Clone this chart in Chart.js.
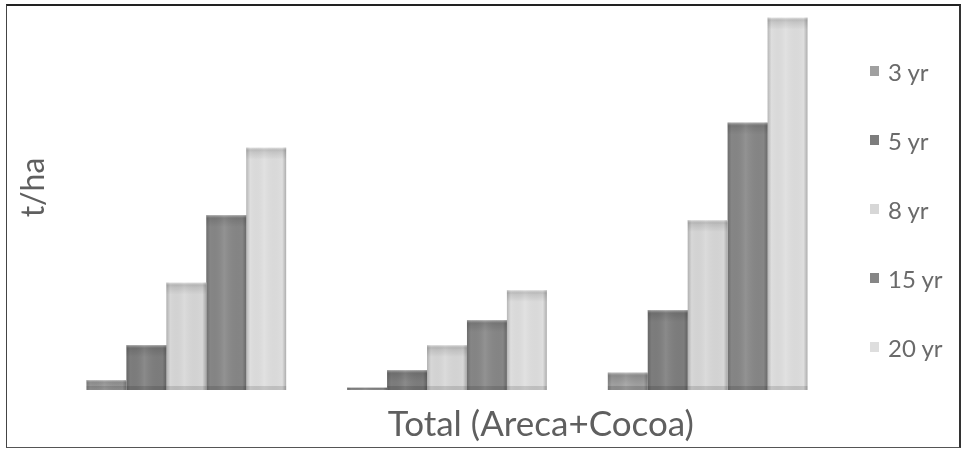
<!DOCTYPE html>
<html>
<head>
<meta charset="utf-8">
<script src="https://cdn.jsdelivr.net/npm/chart.js@4.4.1/dist/chart.umd.min.js"></script>
<style>
  html, body { margin: 0; padding: 0; background: #fff; }
  #wrap { position: relative; width: 963px; height: 449px; overflow: hidden; background: #fff; }
  #c { position: absolute; left: 0; top: 0; }
  #frame {
    position: absolute; left: 6px; top: 4px; width: 952px; height: 441px;
    border-left: 1px solid #444; border-bottom: 1px solid #555;
    border-top: 2px solid #222; border-right: 2px solid #333;
    pointer-events: none;
  }
  #legend {
    position: absolute; left: 870px; top: 56px; margin: 0; padding: 0; list-style: none;
    display: flex; flex-direction: column; gap: 39px;
    font-family: Lato, sans-serif; font-size: 24px; color: #6a6a6a;
  }
  #legend li { display: flex; align-items: center; height: 30px; white-space: nowrap; }
  #legend .sw { width: 9px; height: 10px; margin-right: 9px; display: inline-block; }
</style>
</head>
<body>
<div id="wrap">
  <canvas id="c" width="963" height="449"></canvas>
  <ul id="legend"></ul>
  <div id="frame"></div>
</div>
<script>
// Stand age classes, three unlabelled groups
const CATEGORIES = ['', '', ''];
const SERIES_LABELS = ['3 yr', '5 yr', '8 yr', '15 yr', '20 yr'];

// Biomass (t/ha) per group
const YR3  = [0.4, 0.1, 0.7];
const YR5  = [1.8, 0.8, 3.2];
const YR8  = [4.3, 1.8, 6.8];
const YR15 = [7.0, 2.8, 10.7];
const YR20 = [9.7, 4.0, 14.9];

const Y_MAX = 15;
const Y_TITLE = 't/ha';
const X_TITLE = 'Total (Areca+Cocoa)';

const COLORS = ['#a0a0a0', '#7d7d7d', '#d7d7d7', '#868686', '#dedede'];
const SERIES = [YR3, YR5, YR8, YR15, YR20];

// Soft cylinder-like shading laid over each drawn bar
const barShading = {
  id: 'barShading',
  afterDatasetDraw(chart, args) {
    const ctx = chart.ctx;
    args.meta.data.forEach(bar => {
      const { x, y, base, width } = bar.getProps(['x', 'y', 'base', 'width'], true);
      const left = x - width / 2;
      const h = base - y;
      if (h <= 0) return;
      ctx.save();
      const g = ctx.createLinearGradient(left, 0, left + width, 0);
      g.addColorStop(0, 'rgba(0,0,0,0.18)');
      g.addColorStop(0.1, 'rgba(0,0,0,0)');
      g.addColorStop(0.45, 'rgba(255,255,255,0.10)');
      g.addColorStop(0.9, 'rgba(0,0,0,0)');
      g.addColorStop(1, 'rgba(0,0,0,0.22)');
      ctx.fillStyle = g;
      ctx.fillRect(left, y, width, h);
      const capH = Math.min(12, h);
      const v = ctx.createLinearGradient(0, y, 0, y + capH);
      v.addColorStop(0, 'rgba(255,255,255,0.45)');
      v.addColorStop(0.35, 'rgba(0,0,0,0.10)');
      v.addColorStop(1, 'rgba(0,0,0,0)');
      ctx.fillStyle = v;
      ctx.fillRect(left, y, width, capH);
      const bh = Math.min(4, h);
      ctx.fillStyle = 'rgba(0,0,0,0.12)';
      ctx.fillRect(left, base - bh, width, bh);
      ctx.restore();
    });
  }
};

// Axis captions: value axis title on the left, category caption under the plot
const axisCaptions = {
  id: 'axisCaptions',
  afterDraw(chart) {
    const { ctx, chartArea } = chart;
    const w = chartArea.right - chartArea.left;
    const h = chartArea.bottom - chartArea.top;
    ctx.save();
    ctx.fillStyle = '#5f5f5f';
    ctx.textAlign = 'center';
    ctx.textBaseline = 'middle';
    ctx.font = '35px Lato, sans-serif';
    ctx.fillText(X_TITLE, chartArea.left + w * 0.62, chartArea.bottom + 35);
    ctx.translate(chartArea.left - 22, chartArea.top + h * 0.46);
    ctx.rotate(-Math.PI / 2);
    ctx.font = '32px Lato, sans-serif';
    ctx.fillText(Y_TITLE, 0, 0);
    ctx.restore();
  }
};

// Legend rendered as HTML list from the chart's own legend items
const htmlLegend = {
  id: 'htmlLegend',
  afterUpdate(chart) {
    const ul = document.getElementById('legend');
    ul.innerHTML = '';
    const items = chart.options.plugins.legend.labels.generateLabels(chart);
    items.forEach(item => {
      const li = document.createElement('li');
      const sw = document.createElement('span');
      sw.className = 'sw';
      sw.style.background = item.fillStyle;
      const tx = document.createElement('span');
      tx.textContent = item.text;
      li.append(sw, tx);
      ul.appendChild(li);
    });
  }
};

new Chart(document.getElementById('c'), {
  type: 'bar',
  data: {
    labels: CATEGORIES,
    datasets: SERIES.map((vals, i) => ({
      label: SERIES_LABELS[i],
      data: vals,
      backgroundColor: COLORS[i],
      borderWidth: 0,
      barPercentage: 1.0,
      categoryPercentage: 0.766
    }))
  },
  options: {
    responsive: false,
    animation: false,
    layout: { padding: { top: 15, right: 125, left: 0, bottom: 0 } },
    plugins: {
      legend: { display: false },
      tooltip: { enabled: false }
    },
    scales: {
      x: {
        grid: { display: false, drawTicks: false },
        border: { display: false },
        ticks: { display: false },
        afterFit(s) { s.height = 59; }
      },
      y: {
        min: 0,
        max: Y_MAX,
        grid: { display: false, drawTicks: false },
        border: { display: false },
        ticks: { display: false },
        afterFit(s) { s.width = 56; }
      }
    }
  },
  plugins: [barShading, axisCaptions, htmlLegend]
});
</script>
</body>
</html>
